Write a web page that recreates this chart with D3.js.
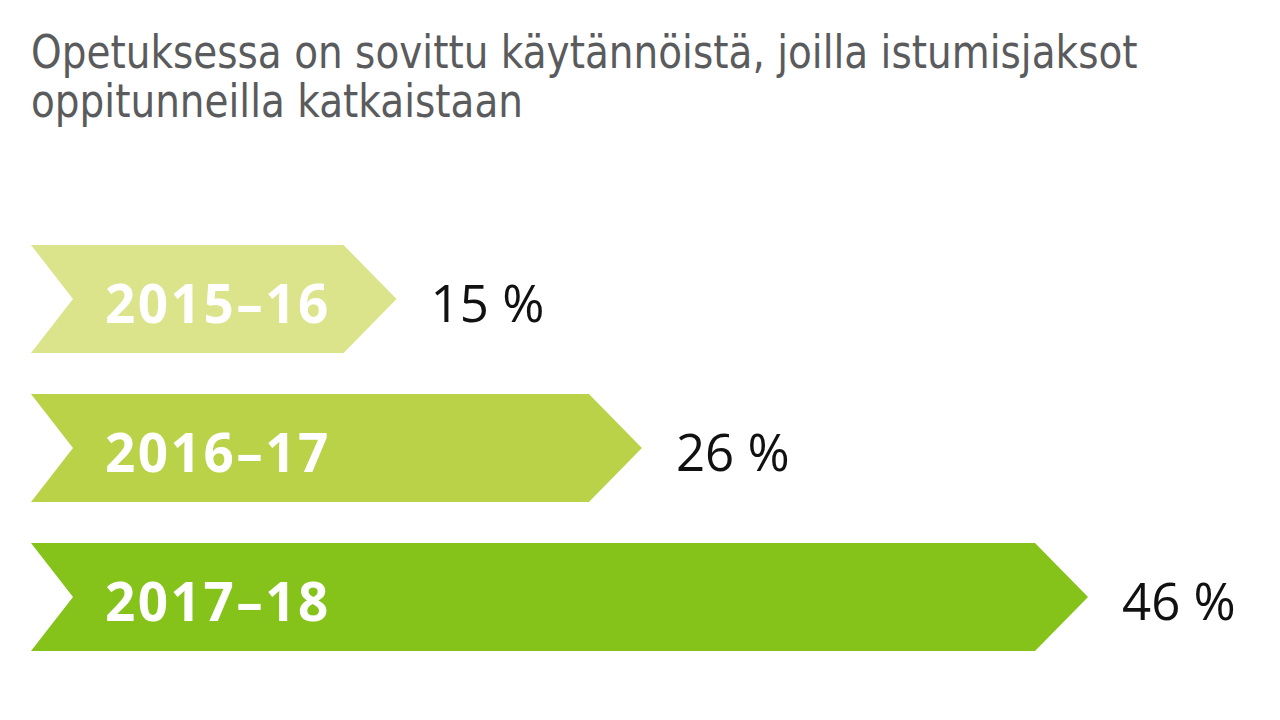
<!DOCTYPE html>
<html><head><meta charset="utf-8">
<script src="https://d3js.org/d3.v7.min.js"></script>
<style>html,body{margin:0;padding:0;background:#fff;}svg{display:block;}</style>
</head><body>
<svg id="c" width="1280" height="720"></svg>
<script>
const titleLines = ["Opetuksessa on sovittu käytännöistä, joilla istumisjaksot", "oppitunneilla katkaistaan"];
const categories = ["2015–16", "2016–17", "2017–18"];
const values = [15, 26, 46];
const valueLabels = ["15 %", "26 %", "46 %"];
const colors = ["#dbe38b", "#b9d248", "#85c21a"];

const svg = d3.select("#c");
const W = 1280, H = 720;

svg.append("rect").attr("width", W).attr("height", H).attr("fill", "#fff");

const titleG = svg.append("g");
const title = titleG.append("g");
titleLines.forEach((t, i) => {
  title.append("text")
    .attr("x", 0).attr("y", 68 + i * 49)
    .attr("fill", "#5a5b5d")
    .attr("font-family", "'DejaVu Sans',sans-serif")
    .attr("font-size", 46)
    .text(t);
});
const w0 = title.select("text").node().getComputedTextLength();
const sx = 1107 / w0;
title.attr("transform", `translate(31,0) scale(${sx},1)`);

const x = d3.scaleLinear().domain([0, 46]).range([62, 1088]);
const y = d3.scaleBand().domain(categories).range([245, 651]).paddingInner(0.275).paddingOuter(0);

const leftX = 31, notch = 42, tipD = 53;

const rows = svg.append("g").selectAll("g").data(categories).join("g");

rows.append("path")
  .attr("fill", (d, i) => colors[i])
  .attr("d", (d, i) => {
    const t = y(d), b = t + y.bandwidth(), m = (t + b) / 2;
    const tip = x(values[i]);
    const p = d3.path();
    p.moveTo(leftX, t);
    p.lineTo(tip - tipD, t);
    p.lineTo(tip, m);
    p.lineTo(tip - tipD, b);
    p.lineTo(leftX, b);
    p.lineTo(leftX + notch, m);
    p.closePath();
    return p.toString();
  });

rows.append("text")
  .attr("x", 105)
  .attr("y", d => y(d) + y.bandwidth() / 2 + 24)
  .attr("fill", "#fff")
  .attr("font-family", "'Open Sans',sans-serif")
  .attr("font-weight", 700)
  .attr("font-size", 53)
  .attr("letter-spacing", 2.5)
  .text(d => d);

rows.append("text")
  .attr("x", (d, i) => x(values[i]) + 34)
  .attr("y", d => y(d) + y.bandwidth() / 2 + 23)
  .attr("fill", "#111")
  .attr("font-family", "'Open Sans',sans-serif")
  .attr("font-weight", 400)
  .attr("font-size", 51)
  .text((d, i) => valueLabels[i]);
</script>
</body></html>
